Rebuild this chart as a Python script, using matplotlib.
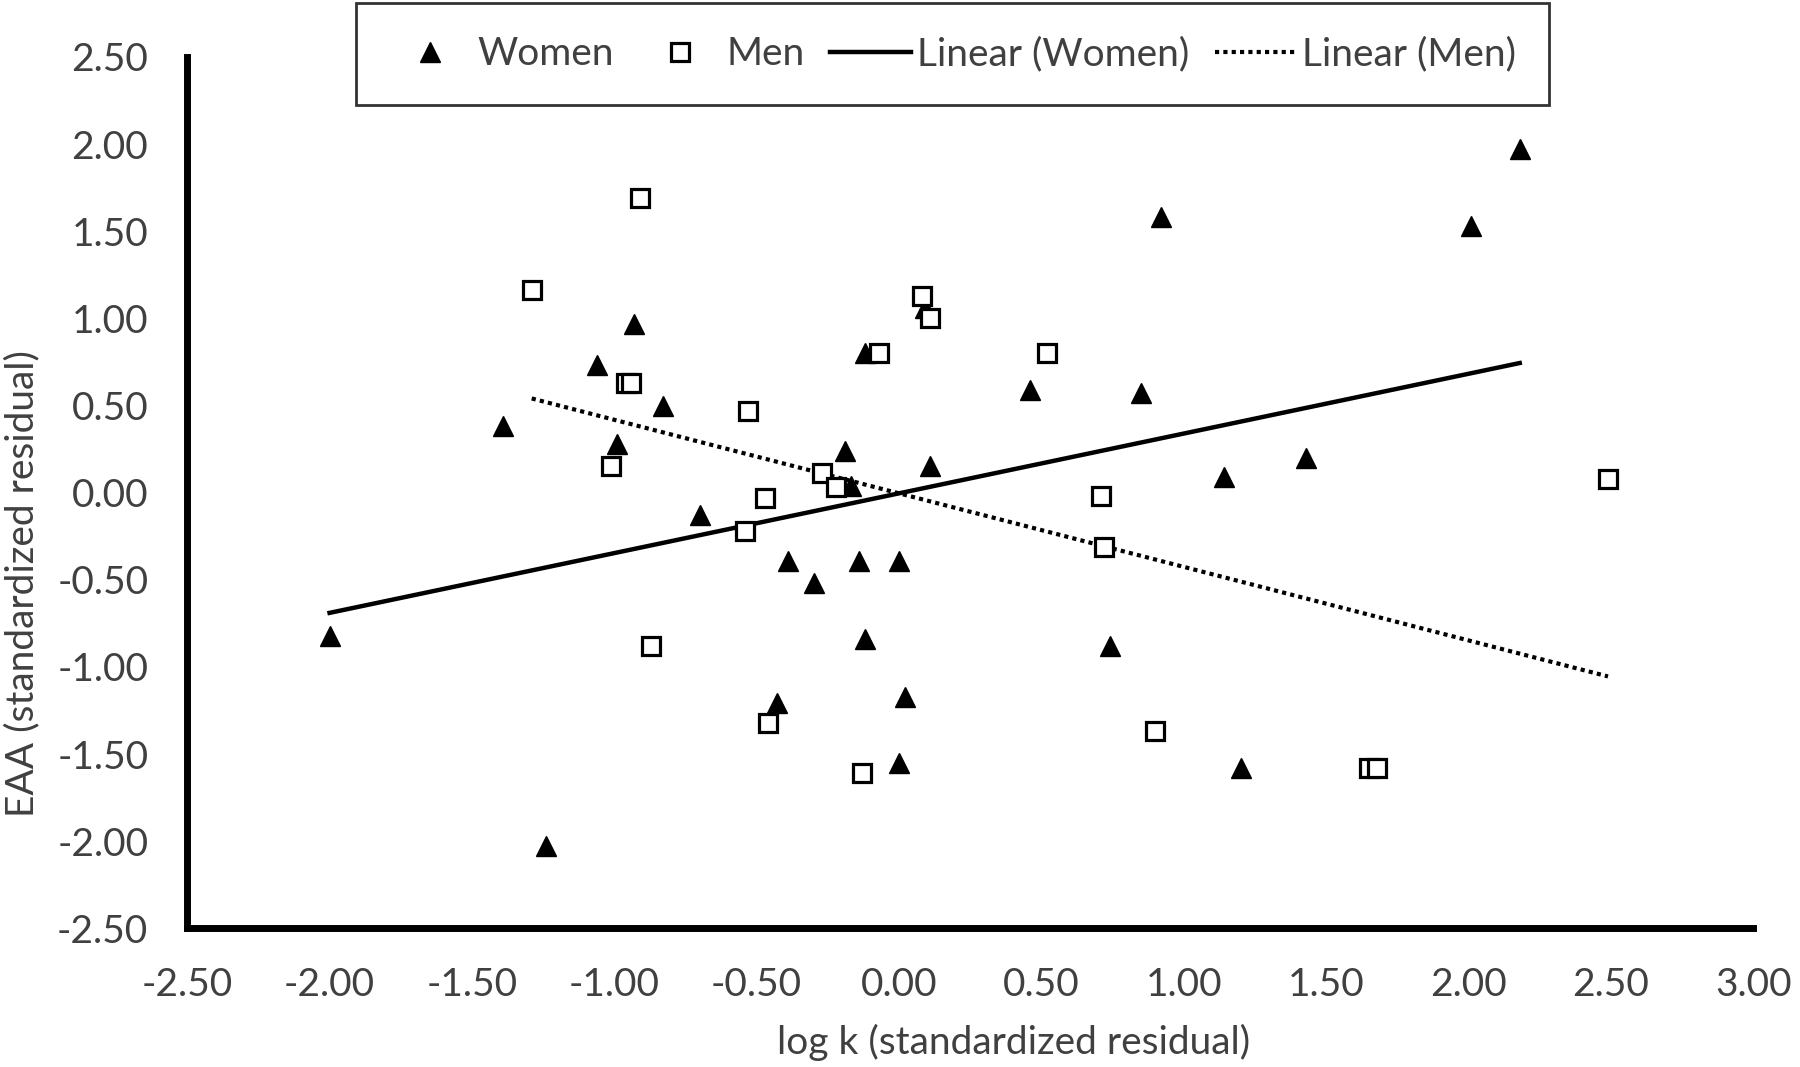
import matplotlib
matplotlib.use("Agg")
import matplotlib.pyplot as plt
import numpy as np
from matplotlib.lines import Line2D

plt.rcParams['font.family'] = ['Lato', 'DejaVu Sans']

# Data
women_x = [-2.00, -1.24, -1.39, -1.06, -0.93, -0.99, -0.83, -0.70, -0.39, -0.30,
           -0.43, -0.19, -0.17, -0.14, -0.12, -0.12, 0.00, 0.02, 0.00, 0.09,
           0.11, 0.46, 0.74, 0.85, 0.92, 1.14, 1.20, 1.43, 2.01, 2.18]
women_y = [-0.82, -2.03, 0.38, 0.73, 0.97, 0.28, 0.50, -0.13, -0.39, -0.52,
           -1.21, 0.24, 0.04, -0.39, -0.84, 0.80, -0.39, -1.17, -1.55, 1.06,
           0.15, 0.59, -0.88, 0.57, 1.58, 0.09, -1.58, 0.20, 1.53, 1.97]

men_x = [-0.91, -1.29, -0.96, -0.94, -1.01, -0.53, -0.87, -0.54, -0.47, -0.46,
         -0.27, -0.22, -0.13, -0.07, 0.08, 0.11, 0.52, 0.71, 0.72, 0.90,
         1.65, 1.68, 2.49]
men_y = [1.69, 1.16, 0.63, 0.63, 0.15, 0.47, -0.88, -0.22, -0.03, -1.32,
         0.11, 0.03, -1.61, 0.80, 1.13, 1.00, 0.80, -0.02, -0.31, -1.37,
         -1.58, -1.58, 0.08]

# Linear trendlines (slope, intercept)
women_fit = [0.343, -0.004]
men_fit = [-0.422, -0.004]

xticks = [-2.5, -2.0, -1.5, -1.0, -0.5, 0.0, 0.5, 1.0, 1.5, 2.0, 2.5, 3.0]
yticks = [-2.5, -2.0, -1.5, -1.0, -0.5, 0.0, 0.5, 1.0, 1.5, 2.0, 2.5]

gray = '#404040'
fs = 28

fig = plt.figure(figsize=(18, 10.67), dpi=100)
ax = fig.add_axes([0.104, 0.130, 0.870, 0.8166])

ax.plot(women_x, women_y, linestyle='none', marker='^', markersize=14.5,
        color='black', zorder=3)
ax.plot(men_x, men_y, linestyle='none', marker='s', markersize=13,
        markerfacecolor='white', markeredgecolor='black', markeredgewidth=2.3,
        zorder=3)

wx = np.array([min(women_x), max(women_x)])
ax.plot(wx, women_fit[0] * wx + women_fit[1], color='black', linewidth=3.2, zorder=2)
mx = np.array([min(men_x), max(men_x)])
ax.plot(mx, men_fit[0] * mx + men_fit[1], color='black', linewidth=3.0,
        linestyle=(0, (1, 1)), zorder=2)

ax.set_xlim(-2.5, 3.0)
ax.set_ylim(-2.5, 2.5)
ax.set_xticks(xticks)
ax.set_yticks(yticks)
ax.set_xticklabels([f"{v:.2f}" for v in xticks])
ax.set_yticklabels([f"{v:.2f}" for v in yticks])
ax.tick_params(axis='both', length=0, labelsize=fs, labelcolor=gray)
ax.tick_params(axis='y', pad=28)
ax.tick_params(axis='x', pad=28)

for s in ['top', 'right']:
    ax.spines[s].set_visible(False)
for s in ['left', 'bottom']:
    ax.spines[s].set_linewidth(5)
    ax.spines[s].set_color('black')

fig.text(0.563, 0.0226, 'log k (standardized residual)', ha='center', va='center',
         fontsize=fs, color=gray)
fig.text(0.0125, 0.453, 'EAA (standardized residual)', ha='center', va='center',
         rotation=90, fontsize=fs, color=gray)

handles = [
    Line2D([], [], linestyle='none', marker='^', markersize=14.5, color='black'),
    Line2D([], [], linestyle='none', marker='s', markersize=13,
           markerfacecolor='white', markeredgecolor='black', markeredgewidth=2.3),
    Line2D([], [], color='black', linewidth=3.2),
    Line2D([], [], color='black', linewidth=3.0, linestyle=(0, (1, 1))),
]
labels = ['Women', 'Men', 'Linear (Women)', 'Linear (Men)']
leg = fig.legend(handles, labels, loc='upper center', bbox_to_anchor=(0.5294, 0.997),
                 ncol=4, frameon=True, fancybox=False, fontsize=fs,
                 handlelength=2.1, handletextpad=0.15, columnspacing=0.65,
                 borderpad=0.85, borderaxespad=0, labelcolor=gray)
leg.get_frame().set_edgecolor('black')
leg.get_frame().set_linewidth(2)

fig.savefig('out.png', dpi=100)
